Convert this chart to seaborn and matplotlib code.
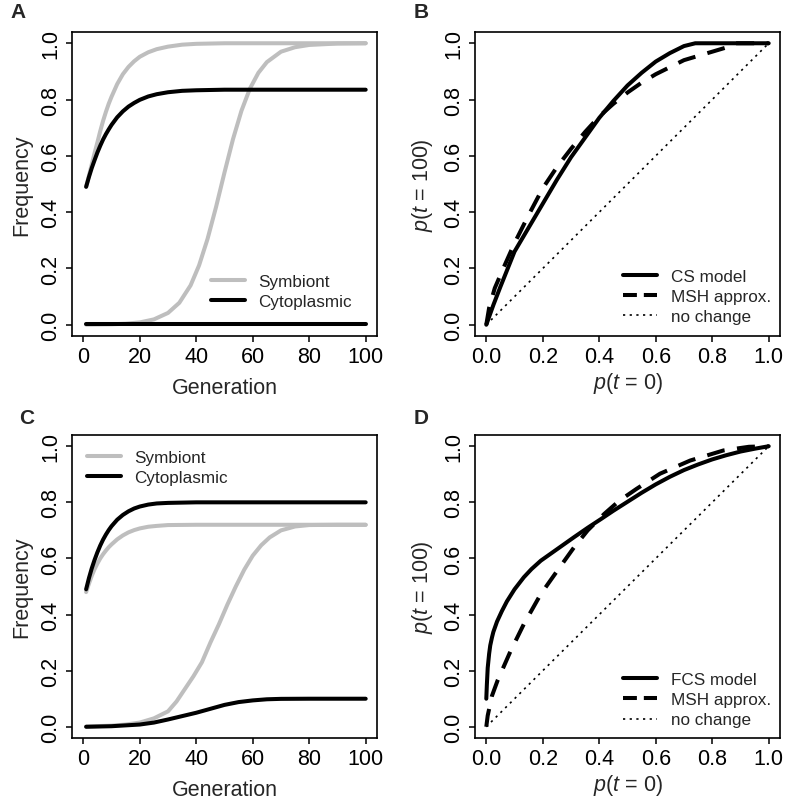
import numpy as np
import pandas as pd
import matplotlib
matplotlib.use("Agg")
import matplotlib.pyplot as plt
from matplotlib.lines import Line2D
import seaborn as sns

sns.set_style("ticks")
plt.rcParams['font.family'] = ['Liberation Sans', 'DejaVu Sans']
plt.rcParams['mathtext.fontset'] = 'custom'
plt.rcParams['mathtext.it'] = 'Liberation Sans:italic'
plt.rcParams['mathtext.rm'] = 'Liberation Sans'
plt.rcParams['lines.scale_dashes'] = False

GRAY = '#BEBEBE'

# panel A : frequency over generations
a_sym1_gen = [1, 2, 3, 4, 5, 6, 7, 8, 9, 10, 12, 14, 16, 18, 20, 23, 26, 30, 35, 40, 50, 100]
a_sym1 = [0.49, 0.53, 0.57, 0.61, 0.648, 0.688, 0.724, 0.756, 0.785, 0.81, 0.855, 0.89, 0.916,
          0.936, 0.952, 0.968, 0.979, 0.988, 0.995, 0.998, 1.0, 1.0]
a_cyt1_gen = [1, 2, 3, 4, 5, 6, 7, 8, 9, 10, 12, 14, 16, 18, 20, 23, 26, 30, 35, 40, 50, 100]
a_cyt1 = [0.49, 0.525, 0.557, 0.585, 0.612, 0.636, 0.658, 0.677, 0.694, 0.71, 0.737, 0.758, 0.775,
          0.788, 0.799, 0.811, 0.819, 0.826, 0.831, 0.833, 0.835, 0.835]
a_sym2_gen = [1, 10, 15, 20, 25, 30, 34, 38, 41, 44, 47, 50, 53, 56, 59, 62, 65, 70, 75, 80, 90, 100]
a_sym2 = [0.0004, 0.0016, 0.0037, 0.0083, 0.019, 0.042, 0.078, 0.14, 0.211, 0.305, 0.418, 0.541, 0.659,
          0.76, 0.839, 0.895, 0.933, 0.97, 0.986, 0.994, 0.999, 1.0]
a_cyt2_gen = [1, 50, 100]
a_cyt2 = [0.002, 0.002, 0.002]

# panel C
c_sym1_gen = [1, 2, 3, 4, 5, 6, 7, 8, 9, 10, 12, 14, 16, 18, 20, 23, 26, 30, 40, 100]
c_sym1 = [0.48, 0.51, 0.538, 0.562, 0.582, 0.6, 0.615, 0.628, 0.64, 0.65, 0.668, 0.682, 0.693,
          0.701, 0.707, 0.713, 0.716, 0.719, 0.72, 0.72]
c_cyt1_gen = [1, 2, 3, 4, 5, 6, 7, 8, 9, 10, 12, 14, 16, 18, 20, 23, 26, 30, 40, 100]
c_cyt1 = [0.49, 0.53, 0.565, 0.595, 0.622, 0.646, 0.667, 0.685, 0.701, 0.715, 0.738, 0.755, 0.768,
          0.778, 0.785, 0.792, 0.796, 0.798, 0.80, 0.80]
c_sym2_gen = [1, 10, 15, 20, 25, 30, 33, 36, 39, 42, 45, 48, 51, 54, 57, 60, 63, 66, 70, 75, 80, 90, 100]
c_sym2 = [0.001, 0.004, 0.008, 0.015, 0.03, 0.055, 0.09, 0.135, 0.18, 0.23, 0.3, 0.365, 0.435, 0.5,
          0.56, 0.61, 0.647, 0.675, 0.70, 0.714, 0.719, 0.72, 0.72]
c_cyt2_gen = [1, 10, 20, 25, 30, 35, 40, 45, 50, 55, 60, 65, 70, 80, 100]
c_cyt2 = [0.0, 0.002, 0.008, 0.015, 0.026, 0.038, 0.05, 0.064, 0.078, 0.088, 0.094, 0.098, 0.0995, 0.1, 0.1]

# panel B : p(t=100) vs p(t=0)
b_p0 = [0, 0.025, 0.05, 0.1, 0.15, 0.2, 0.25, 0.3, 0.35, 0.4, 0.45, 0.5, 0.55, 0.6, 0.65, 0.7, 0.74, 0.8, 1.0]
b_cs = [0, 0.07, 0.135, 0.26, 0.345, 0.43, 0.515, 0.595, 0.665, 0.735, 0.795, 0.85, 0.895, 0.935,
        0.965, 0.99, 1.0, 1.0, 1.0]
b_msh_p0 = [0, 0.01, 0.03, 0.06, 0.1, 0.15, 0.2, 0.25, 0.3, 0.35, 0.4, 0.45, 0.5, 0.55, 0.6, 0.65,
            0.7, 0.75, 0.8, 0.85, 0.88, 1.0]
b_msh = [0, 0.06, 0.13, 0.2, 0.29, 0.39, 0.485, 0.56, 0.625, 0.685, 0.74, 0.785, 0.825, 0.86, 0.89,
         0.915, 0.94, 0.955, 0.97, 0.985, 1.0, 1.0]

# panel D
d_p0 = [0, 0.002, 0.005, 0.01, 0.014, 0.02, 0.025, 0.038, 0.055, 0.073, 0.1, 0.133, 0.16, 0.193,
        0.252, 0.311, 0.36, 0.407, 0.45, 0.5, 0.55, 0.6, 0.65, 0.7, 0.75, 0.8, 0.85, 0.9, 0.95, 1.0]
d_fcs = [0.1, 0.15, 0.21, 0.26, 0.29, 0.318, 0.338, 0.375, 0.412, 0.447, 0.49, 0.533, 0.562, 0.592,
         0.634, 0.676, 0.71, 0.741, 0.77, 0.802, 0.834, 0.864, 0.891, 0.915, 0.935, 0.953, 0.968,
         0.981, 0.991, 1.0]
d_msh_p0 = [0, 0.005, 0.02, 0.04, 0.086, 0.133, 0.193, 0.252, 0.311, 0.359, 0.418, 0.47, 0.532, 0.615,
            0.722, 0.84, 0.93, 1.0]
d_msh = [0, 0.04, 0.11, 0.165, 0.27, 0.366, 0.473, 0.557, 0.64, 0.70, 0.759, 0.805, 0.848, 0.902,
         0.949, 0.985, 0.998, 1.0]

diag = [0, 1]

TICK = 15.5
LW = 2.9
DASH = (13, 9)
DOT = (1.6, 3.2)

fig = plt.figure(figsize=(7.87, 8.12), dpi=100)
axA = fig.add_axes([72/787, 1-337/812, 305/787, 304/812])
axB = fig.add_axes([475/787, 1-337/812, 305/787, 304/812])
axC = fig.add_axes([72/787, 1-739/812, 305/787, 303/812])
axD = fig.add_axes([475/787, 1-739/812, 305/787, 303/812])


def style(ax, xticks, xlim, xlabel, ylabel, xpad):
    ax.set_xlim(*xlim)
    ax.set_ylim(-0.04, 1.04)
    ax.set_xticks(xticks)
    ax.set_yticks([0, 0.2, 0.4, 0.6, 0.8, 1.0])
    ax.set_yticklabels(['0.0', '0.2', '0.4', '0.6', '0.8', '1.0'])
    if xlim[1] < 2:
        ax.set_xticklabels(['0.0', '0.2', '0.4', '0.6', '0.8', '1.0'])
    ax.tick_params(direction='out', length=4.5, width=1.1, labelsize=TICK, pad=3, colors='black')
    for lab in ax.get_yticklabels():
        lab.set_rotation(90)
        lab.set_va('center')
    for s in ax.spines.values():
        s.set_visible(True)
        s.set_linewidth(1.2)
        s.set_color('black')
    ax.set_xlabel(xlabel, fontsize=TICK, labelpad=xpad)
    ax.set_ylabel(ylabel, fontsize=TICK, labelpad=6)


def line(ax, x, y, color, lw=LW, dashes=None):
    sns.lineplot(x=x, y=y, ax=ax, color=color, lw=lw, legend=False,
                 solid_capstyle='round', dash_capstyle='butt')
    if dashes is not None:
        ax.get_lines()[-1].set_dashes(dashes)


gen_ticks = [0, 20, 40, 60, 80, 100]
p_ticks = [0, 0.2, 0.4, 0.6, 0.8, 1.0]

# A
line(axA, a_sym1_gen, a_sym1, GRAY)
line(axA, a_sym2_gen, a_sym2, GRAY)
line(axA, a_cyt1_gen, a_cyt1, 'black')
line(axA, a_cyt2_gen, a_cyt2, 'black')
style(axA, gen_ticks, (-4, 104), 'Generation', 'Frequency', 7)

# C
line(axC, c_sym1_gen, c_sym1, GRAY)
line(axC, c_sym2_gen, c_sym2, GRAY)
line(axC, c_cyt1_gen, c_cyt1, 'black')
line(axC, c_cyt2_gen, c_cyt2, 'black')
style(axC, gen_ticks, (-4, 104), 'Generation', 'Frequency', 7)

gen_handles = [Line2D([], [], color=GRAY, lw=LW), Line2D([], [], color='black', lw=LW)]
leg_kw = dict(frameon=False, fontsize=12.3, handlelength=2.0, handletextpad=0.8,
              labelspacing=0.3, borderpad=0, borderaxespad=0, loc='upper left')
axA.legend(gen_handles, ['Symbiont', 'Cytoplasmic'], bbox_to_anchor=(0.455, 0.205), **leg_kw)
axC.legend(gen_handles, ['Symbiont', 'Cytoplasmic'], bbox_to_anchor=(0.048, 0.952), **leg_kw)

# B
line(axB, diag, diag, 'black', lw=1.2, dashes=DOT)
line(axB, b_msh_p0, b_msh, 'black', dashes=DASH)
line(axB, b_p0, b_cs, 'black')
style(axB, p_ticks, (-0.04, 1.04), '$p$($t$ = 0)', '$p$($t$ = 100)', 2)

# D
line(axD, diag, diag, 'black', lw=1.2, dashes=DOT)
line(axD, d_msh_p0, d_msh, 'black', dashes=DASH)
line(axD, d_p0, d_fcs, 'black')
style(axD, p_ticks, (-0.04, 1.04), '$p$($t$ = 0)', '$p$($t$ = 100)', 2)

p_handles = [Line2D([], [], color='black', lw=LW),
             Line2D([], [], color='black', lw=LW, dashes=(10, 5)),
             Line2D([], [], color='black', lw=1.2, dashes=DOT)]
axB.legend(p_handles, ['CS model', 'MSH approx.', 'no change'], bbox_to_anchor=(0.485, 0.222), **leg_kw)
axD.legend(p_handles, ['FCS model', 'MSH approx.', 'no change'], bbox_to_anchor=(0.485, 0.217), **leg_kw)

for letter, (x, y) in zip('ABCD', [(18, 13), (421, 13), (27, 419), (421, 419)]):
    fig.text(x/787, 1-y/812, letter, fontsize=15, fontweight='bold', ha='center', va='center')

fig.savefig('out.png', dpi=100)
